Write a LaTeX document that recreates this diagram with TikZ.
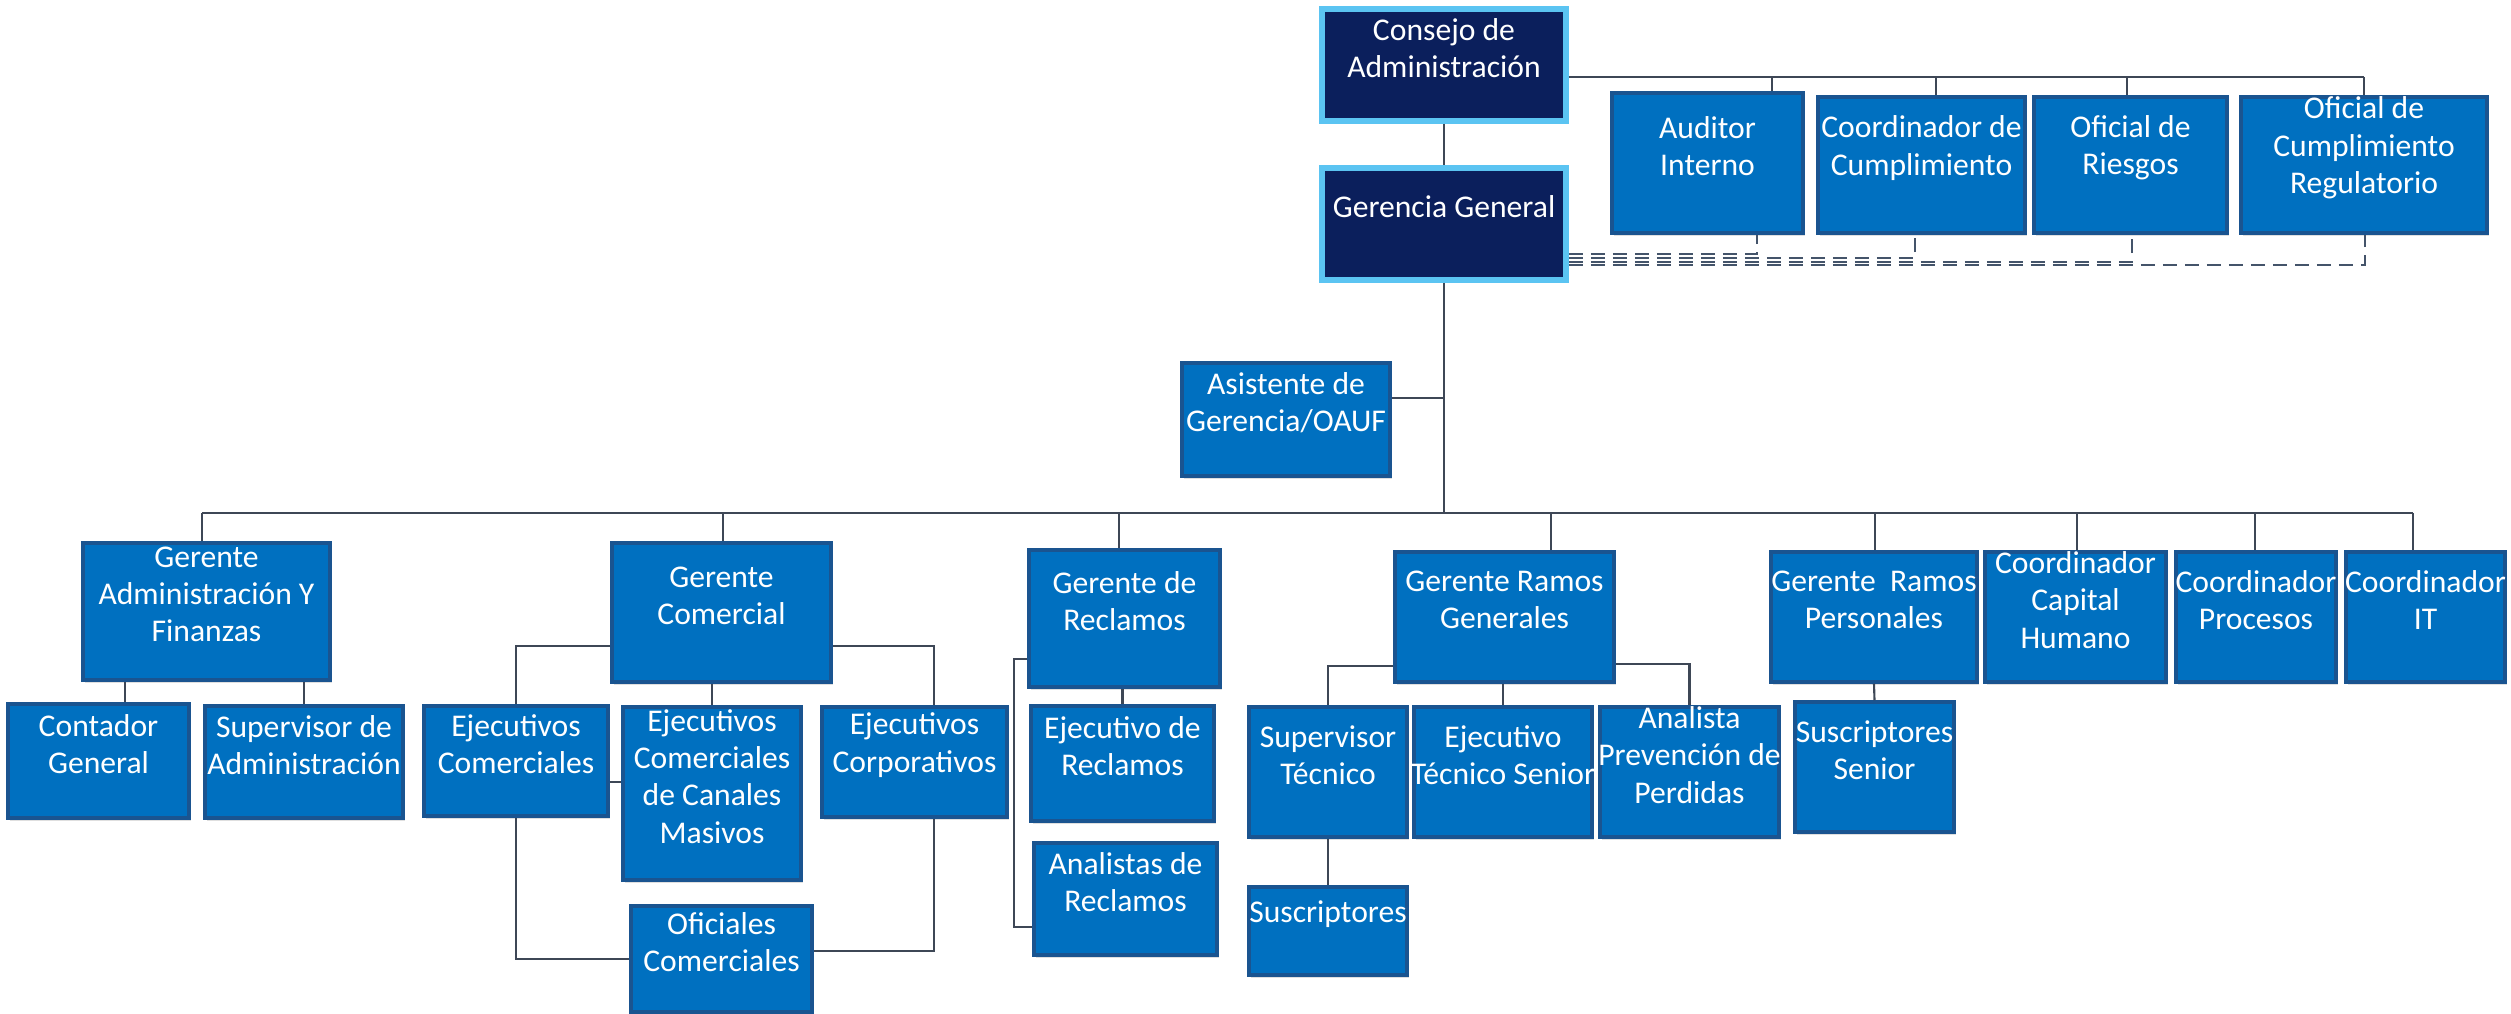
\documentclass[tikz,border=0pt]{standalone}
\usepackage{fontspec}
\setmainfont{Carlito}
\usetikzlibrary{shadows}
\definecolor{boxblue}{HTML}{0070C0}
\definecolor{boxedge}{HTML}{1A5490}
\definecolor{navy}{HTML}{0B1F5C}
\definecolor{glow}{HTML}{5BC4F2}
\definecolor{conn}{HTML}{3E4756}
\definecolor{dashc}{HTML}{44546A}
\begin{document}
\begin{tikzpicture}[
 bx/.style={rectangle, fill=boxblue, draw=boxedge, line width=1pt, inner sep=0pt,
   drop shadow={opacity=0.25,shadow xshift=0.6pt,shadow yshift=-0.8pt}},
 topbx/.style={rectangle, fill=navy, draw=glow, line width=1.6pt, inner sep=0pt},
 tx/.style={text=white, align=center, font=\fontsize{9}{10.6}\selectfont, anchor=center, yshift=1.7mm, inner sep=0pt},
 ln/.style={draw=conn, line width=0.6pt},
 dsh/.style={draw=dashc, line width=0.7pt, dash pattern=on 1.4mm off 0.8mm},
]
\useasboundingbox[fill=white] (0,0) rectangle (25.11,-10.14);

% ---- top level
\node[topbx, minimum width=2.44cm, minimum height=1.12cm, label={[tx]center:{Consejo de\\Administración}}] (cons) at (14.44,-0.65) {};
\node[topbx, minimum width=2.44cm, minimum height=1.12cm, label={[tx]center:{Gerencia General}}] (ger) at (14.44,-2.24) {};

\node[bx, minimum width=1.91cm, minimum height=1.40cm, label={[tx]center:{Auditor\\Interno}}] (aud) at (17.075,-1.63) {};
\node[bx, minimum width=2.07cm, minimum height=1.36cm, label={[tx]center:{Coordinador de\\Cumplimiento}}] (ccum) at (19.215,-1.65) {};
\node[bx, minimum width=1.93cm, minimum height=1.36cm, label={[tx]center:{Oficial de\\Riesgos}}] (ories) at (21.305,-1.65) {};
\node[bx, minimum width=2.46cm, minimum height=1.36cm, label={[tx]center:{Oficial de\\Cumplimiento\\Regulatorio}}] (ocr) at (23.64,-1.65) {};

\node[bx, minimum width=2.08cm, minimum height=1.13cm, label={[tx]center:{Asistente de\\Gerencia/OAUF}}] (asis) at (12.86,-4.195) {};

% ---- managers
\node[bx, minimum width=2.47cm, minimum height=1.37cm, label={[tx]center:{Gerente\\Administración Y\\Finanzas}}] (gaf) at (2.065,-6.115) {};
\node[bx, minimum width=2.19cm, minimum height=1.39cm, label={[tx]center:{Gerente\\Comercial}}] (gcom) at (7.215,-6.125) {};
\node[bx, minimum width=1.91cm, minimum height=1.37cm, label={[tx]center:{Gerente de\\Reclamos}}] (grec) at (11.245,-6.185) {};
\node[bx, minimum width=2.19cm, minimum height=1.30cm, label={[tx]center:{Gerente Ramos\\Generales}}] (grg) at (15.045,-6.17) {};
\node[bx, minimum width=2.06cm, minimum height=1.30cm, label={[tx]center:{Gerente~~Ramos\\Personales}}] (grp) at (18.74,-6.17) {};
\node[bx, minimum width=1.81cm, minimum height=1.30cm, label={[tx]center:{Coordinador\\Capital\\Humano}}] (cch) at (20.755,-6.17) {};
\node[bx, minimum width=1.60cm, minimum height=1.30cm, label={[tx]center:{Coordinador\\Procesos}}] (cpro) at (22.56,-6.17) {};
\node[bx, minimum width=1.59cm, minimum height=1.30cm, label={[tx]center:{Coordinador\\IT}}] (cit) at (24.255,-6.17) {};

% ---- staff
\node[bx, minimum width=1.81cm, minimum height=1.14cm, label={[tx]center:{Contador\\General}}] (cont) at (0.985,-7.61) {};
\node[bx, minimum width=1.98cm, minimum height=1.12cm, label={[tx]center:{Supervisor de\\Administración}}] (sadm) at (3.04,-7.62) {};
\node[bx, minimum width=1.84cm, minimum height=1.10cm, label={[tx]center:{Ejecutivos\\Comerciales}}] (ecom) at (5.16,-7.61) {};
\node[bx, minimum width=1.78cm, minimum height=1.73cm, label={[tx]center:{Ejecutivos\\Comerciales\\de Canales\\Masivos}}] (eccm) at (7.12,-7.935) {};
\node[bx, minimum width=1.85cm, minimum height=1.10cm, label={[tx]center:{Ejecutivos\\Corporativos}}] (ecorp) at (9.145,-7.62) {};
\node[bx, minimum width=1.81cm, minimum height=1.06cm, label={[tx]center:{Oficiales\\Comerciales}}] (ofc) at (7.215,-9.59) {};
\node[bx, minimum width=1.83cm, minimum height=1.15cm, label={[tx]center:{Ejecutivo de\\Reclamos}}] (ejrec) at (11.225,-7.635) {};
\node[bx, minimum width=1.83cm, minimum height=1.12cm, label={[tx]center:{Analistas de\\Reclamos}}] (anrec) at (11.255,-8.99) {};
\node[bx, minimum width=1.58cm, minimum height=1.30cm, label={[tx]center:{Supervisor\\Técnico}}] (stec) at (13.28,-7.72) {};
\node[bx, minimum width=1.78cm, minimum height=1.30cm, label={[tx]center:{Ejecutivo\\Técnico Senior}}] (ets) at (15.03,-7.72) {};
\node[bx, minimum width=1.79cm, minimum height=1.30cm, label={[tx]center:{Analista\\Prevención de\\Perdidas}}] (app) at (16.895,-7.72) {};
\node[bx, minimum width=1.58cm, minimum height=0.88cm, label={[tx]center:{Suscriptores}}] (susc) at (13.28,-9.31) {};
\node[bx, minimum width=1.59cm, minimum height=1.30cm, label={[tx]center:{Suscriptores\\Senior}}] (ssen) at (18.745,-7.67) {};

% ---- helper coordinates
\coordinate (yt) at (0,-0.77);
\coordinate (xt1) at (17.72,0);
\coordinate (xt2) at (19.36,0);
\coordinate (xt3) at (21.27,0);
\coordinate (xt4) at (23.64,0);
\coordinate (d1) at (17.57,-2.54);
\coordinate (d2) at (19.15,-2.58);
\coordinate (d3) at (21.32,-2.62);
\coordinate (d4) at (23.65,-2.65);
\coordinate (ya) at (0,-3.98);
\coordinate (ybus) at (0,-5.13);
\coordinate (bgaf) at (2.02,-5.13);
\coordinate (bgcom) at (7.23,-5.13);
\coordinate (bgrec) at (11.19,-5.13);
\coordinate (bgrg) at (15.51,-5.13);
\coordinate (bgrp) at (18.75,-5.13);
\coordinate (bcch) at (20.77,-5.13);
\coordinate (bcpro) at (22.55,-5.13);
\coordinate (bcit) at (24.13,-5.13);
\coordinate (xc) at (1.25,0);

% ---- connectors, top
\draw[ln] (cons.south) -- (ger.north);
\draw[ln] (cons.east |- yt) -- (xt4 |- yt);
\draw[ln] (xt1 |- yt) -- (xt1 |- aud.north);
\draw[ln] (xt2 |- yt) -- (xt2 |- ccum.north);
\draw[ln] (xt3 |- yt) -- (xt3 |- ories.north);
\draw[ln] (xt4 |- yt) -- (xt4 |- ocr.north);

\draw[dsh] (ger.east |- d1) -- (d1) -- (d1 |- aud.south);
\draw[dsh] (ger.east |- d2) -- (d2) -- (d2 |- ccum.south);
\draw[dsh] (ger.east |- d3) -- (d3) -- (d3 |- ories.south);
\draw[dsh] (ger.east |- d4) -- (d4) -- (d4 |- ocr.south);

\draw[ln] (ger.south) -- (ger.south |- ybus);
\draw[ln] (asis.east |- ya) -- (ger.south |- ya);

% ---- bus
\draw[ln] (bgaf) -- (bcit);
\draw[ln] (bgaf) -- (bgaf |- gaf.north);
\draw[ln] (bgcom) -- (bgcom |- gcom.north);
\draw[ln] (bgrec) -- (bgrec |- grec.north);
\draw[ln] (bgrg) -- (bgrg |- grg.north);
\draw[ln] (bgrp) -- (bgrp |- grp.north);
\draw[ln] (bcch) -- (bcch |- cch.north);
\draw[ln] (bcpro) -- (bcpro |- cpro.north);
\draw[ln] (bcit) -- (bcit |- cit.north);

% ---- administracion
\draw[ln] (gaf.south -| xc) -- (cont.north -| xc);
\draw[ln] (sadm.north |- gaf.south) -- (sadm.north);

% ---- comercial
\draw[ln] ([yshift=-3.35mm]gcom.west) -| (ecom.north);
\draw[ln] ([yshift=-3.35mm]gcom.east) -| ([xshift=1.95mm]ecorp.north);
\draw[ln] (eccm.north |- gcom.south) -- (eccm.north);
\draw[ln] (ecom.south) |- (ofc.west);
\draw[ln] ([xshift=1.95mm]ecorp.south) |- ([yshift=0.8mm]ofc.east);
\draw[ln] ([yshift=-2.1mm]ecom.east) -- ([yshift=-2.1mm]ecom.east -| eccm.west);

% ---- reclamos
\draw[ln] ([yshift=-4.05mm]grec.west) -- ++(-0.13,0) |- ([yshift=-2.8mm]anrec.west);
\draw[ln] (ejrec.north |- grec.south) -- (ejrec.north);

% ---- ramos generales
\draw[ln] ([yshift=-4.9mm]grg.west) -| (stec.north);
\draw[ln] ([yshift=-4.7mm]grg.east) -| (app.north);
\draw[ln] (ets.north |- grg.south) -- (ets.north);
\draw[ln] (stec.south) -- (susc.north);

% ---- ramos personales
\draw[ln] (grp.south) -- (ssen.north);
\end{tikzpicture}
\end{document}
